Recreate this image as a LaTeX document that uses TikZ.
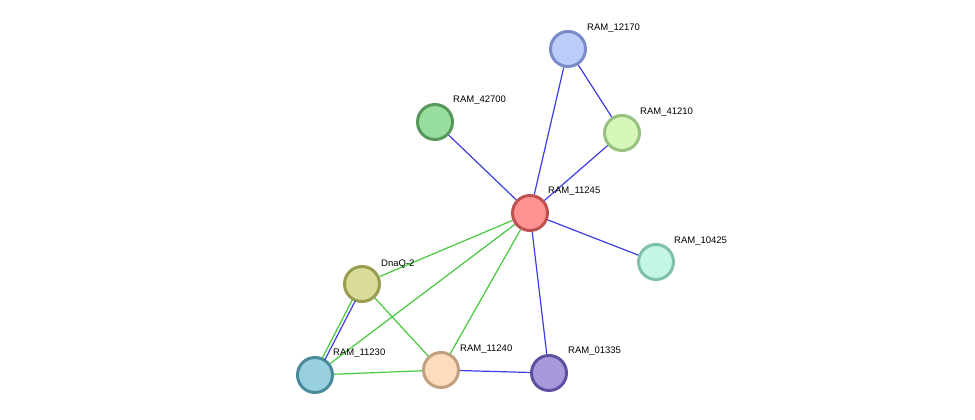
\documentclass[tikz,border=0pt]{standalone}
\usepackage{fontspec}
\setmainfont{Liberation Sans}
\begin{document}
\begin{tikzpicture}[x=1pt,y=-1pt,
  nd/.style={circle,minimum size=36pt,inner sep=0pt,line width=2pt},
  lb/.style={font=\fontsize{9.5}{10}\selectfont,anchor=south west,inner sep=0pt},
  be/.style={draw={rgb,255:red,60;green,60;blue,230},line width=1.2pt},
  ge/.style={draw={rgb,255:red,70;green,200;blue,60},line width=1.2pt}]
\useasboundingbox (0,0) rectangle (975,420);
\definecolor{f1}{RGB}{188,204,248}\definecolor{d1}{RGB}{120,140,200}
\definecolor{f2}{RGB}{214,246,186}\definecolor{d2}{RGB}{152,192,128}
\definecolor{f3}{RGB}{152,222,158}\definecolor{d3}{RGB}{88,152,92}
\definecolor{f4}{RGB}{255,146,146}\definecolor{d4}{RGB}{192,80,80}
\definecolor{f5}{RGB}{196,246,228}\definecolor{d5}{RGB}{128,192,168}
\definecolor{f6}{RGB}{216,220,152}\definecolor{d6}{RGB}{154,156,80}
\definecolor{f7}{RGB}{152,208,222}\definecolor{d7}{RGB}{74,138,154}
\definecolor{f8}{RGB}{252,220,188}\definecolor{d8}{RGB}{192,160,128}
\definecolor{f9}{RGB}{168,152,220}\definecolor{d9}{RGB}{96,80,160}
\node[nd,fill=f1,draw=d1] (a) at (568,49) {};
\node[nd,fill=f2,draw=d2] (b) at (622,133) {};
\node[nd,fill=f3,draw=d3] (c) at (435,122) {};
\node[nd,fill=f4,draw=d4] (d) at (530,213) {};
\node[nd,fill=f5,draw=d5] (e) at (656,262) {};
\node[nd,fill=f6,draw=d6] (f) at (362,284) {};
\node[nd,fill=f7,draw=d7] (g) at (315,375) {};
\node[nd,fill=f8,draw=d8] (h) at (441,370) {};
\node[nd,fill=f9,draw=d9] (i) at (549,373) {};
\begin{scope}[on background layer/.style={}]
\end{scope}
\begin{pgfonlayer}{main}\end{pgfonlayer}
\path[be] (a) -- (d); \path[be] (a) -- (b); \path[be] (b) -- (d);
\path[be] (c) -- (d); \path[be] (d) -- (e); \path[be] (d) -- (i);
\path[be] (h) -- (i);
\path[ge] (d) -- (f); \path[ge] (d) -- (g); \path[ge] (d) -- (h);
\path[ge] (f) -- (h); \path[ge] (g) -- (h);
\path[be] ([xshift=2pt]f.center) -- ([xshift=2pt]g.center);
\path[ge] ([xshift=-1.5pt]f.center) -- ([xshift=-1.5pt]g.center);
\foreach \n/\f/\d in {a/f1/d1,b/f2/d2,c/f3/d3,d/f4/d4,e/f5/d5,f/f6/d6,g/f7/d7,h/f8/d8,i/f9/d9}
  \fill[\f,draw=\d,line width=2pt] (\n.center) circle (17pt);
\node[lb] at (587,33) {RAM\_12170};
\node[lb] at (640,117) {RAM\_41210};
\node[lb] at (453,105) {RAM\_42700};
\node[lb] at (548,196) {RAM\_11245};
\node[lb] at (674,246) {RAM\_10425};
\node[lb] at (381,268) {DnaQ-2};
\node[lb] at (333,358) {RAM\_11230};
\node[lb] at (460,354) {RAM\_11240};
\node[lb] at (568,356) {RAM\_01335};
\end{tikzpicture}
\end{document}
